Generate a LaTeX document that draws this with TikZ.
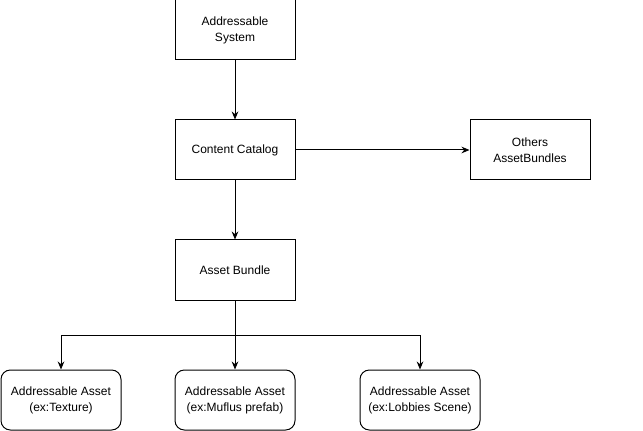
\documentclass[tikz,border=0pt]{standalone}
\usepackage{fontspec}
\setmainfont{Liberation Sans}
\usetikzlibrary{arrows.meta}
\begin{document}
\begin{tikzpicture}[x=0.75pt,y=-0.75pt,line width=0.75pt,
  box/.style={draw,minimum width=90pt,minimum height=45pt,align=center,inner sep=0pt,font=\fontsize{9}{12}\selectfont},
  asset/.style={box,rounded corners=7pt},
  link/.style={-{Stealth[length=6pt,width=5pt]}}]
\useasboundingbox (0,0) rectangle (643,431);

% Upper chain
\node[box] (sys) at (235,30) {Addressable\\System};
\node[box] (cat) at (235,150) {Content Catalog};
\node[box] (oth) at (530,150) {Others\\AssetBundles};
\node[box] (bun) at (235,270) {Asset Bundle};

% Assets
\node[asset] (tex) at (61,400) {Addressable Asset\\(ex:Texture)};
\node[asset] (muf) at (235,400) {Addressable Asset\\(ex:Muflus prefab)};
\node[asset] (lob) at (420,400) {Addressable Asset\\(ex:Lobbies Scene)};

% Links
\draw[link] (sys) -- (cat);
\draw[link] (cat) -- (oth);
\draw[link] (cat) -- (bun);
\coordinate (split) at (235,335);
\draw[link] (bun) -- (muf);
\draw[link] (split) -| (tex.north);
\draw[link] (split) -| (lob.north);
\end{tikzpicture}
\end{document}
